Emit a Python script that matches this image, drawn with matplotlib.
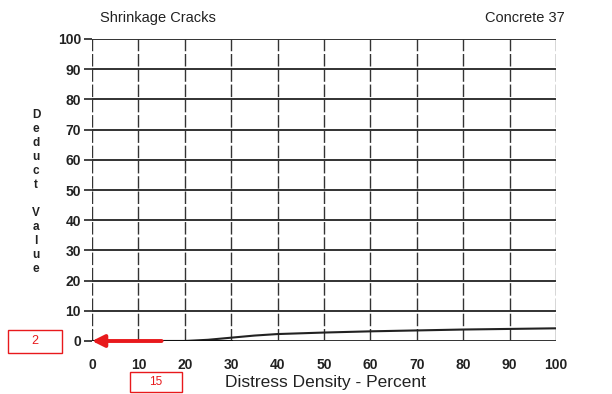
import matplotlib
matplotlib.use("Agg")
import matplotlib.pyplot as plt
from matplotlib.patches import Rectangle

# data
density = [0, 10, 20, 25, 30, 35, 40, 50, 60, 70, 80, 90, 100]
deduct = [0, 0, 0, 0.4, 1.1, 1.8, 2.3, 2.8, 3.2, 3.5, 3.8, 4.0, 4.2]
x_ticks = [0, 10, 20, 30, 40, 50, 60, 70, 80, 90, 100]
y_ticks = [0, 10, 20, 30, 40, 50, 60, 70, 80, 90, 100]
title_left = "Shrinkage Cracks"
title_right = "Concrete 37"
x_label = "Distress Density - Percent"
y_label = "Deduct Value"
read_density = 15
read_deduct = 2

plt.rcParams['font.family'] = ['Liberation Sans', 'DejaVu Sans']
fig = plt.figure(figsize=(6.12, 3.94), dpi=100)
ax = fig.add_axes([92/612, 1-341/394, (556-92)/612, (341-39)/394])
ax.set_xlim(0, 100)
ax.set_ylim(0, 100)
for y in y_ticks:
    ax.axhline(y, color='#222222', lw=1.3, zorder=1)
for x in x_ticks:
    ax.axvline(x, color='#333333', lw=1.0, ls=(0, (9, 2)), zorder=1)
ax.plot(density, deduct, color='#222222', lw=1.5, zorder=2)
ax.plot([0, 30], [0, 0], color='#111111', lw=2.2, zorder=2)
for s in ax.spines.values():
    s.set_visible(False)
ax.set_xticks(x_ticks)
ax.set_yticks(y_ticks)
ax.tick_params(axis='x', length=0, pad=12, labelsize=10, colors='#222222')
ax.tick_params(axis='y', length=6, width=1.2, pad=2, labelsize=10, colors='#222222', direction='out')
for lbl in ax.get_xticklabels() + ax.get_yticklabels():
    lbl.set_fontweight('bold')

# arrow annotation
ax.annotate('', xy=(0, 0), xytext=(read_density, 0),
            arrowprops=dict(arrowstyle='-|>', color='#e8191c', lw=2.8, mutation_scale=18,
                            shrinkA=0, shrinkB=0), zorder=5, annotation_clip=False)

fig.text(100/612, 1-18/394, title_left, fontsize=10.5, va='center', ha='left', color='#222222')
fig.text(565/612, 1-18/394, title_right, fontsize=10.5, va='center', ha='right', color='#222222')
fig.text(325/612, 1-382/394, x_label, fontsize=12.5, va='center', ha='center', color='#222222')
fig.text(36/612, 1-192/394, "\n".join(y_label), fontsize=8.5, va='center', ha='center',
         color='#222222', fontweight='bold', linespacing=1.22)

# red boxes
fig.patches.append(Rectangle((8/612, 1-353/394), 54/612, 23/394, transform=fig.transFigure,
                             fill=False, edgecolor='#e8191c', lw=1.0))
fig.text(35/612, 1-341.5/394, str(read_deduct), fontsize=9, color='#e8191c', ha='center', va='center')
fig.patches.append(Rectangle((130/612, 1-392/394), 52/612, 20/394, transform=fig.transFigure,
                             fill=False, edgecolor='#e8191c', lw=1.0))
fig.text(156/612, 1-382/394, str(read_density), fontsize=8.5, color='#e8191c', ha='center', va='center')

fig.savefig("out.png", dpi=100)
